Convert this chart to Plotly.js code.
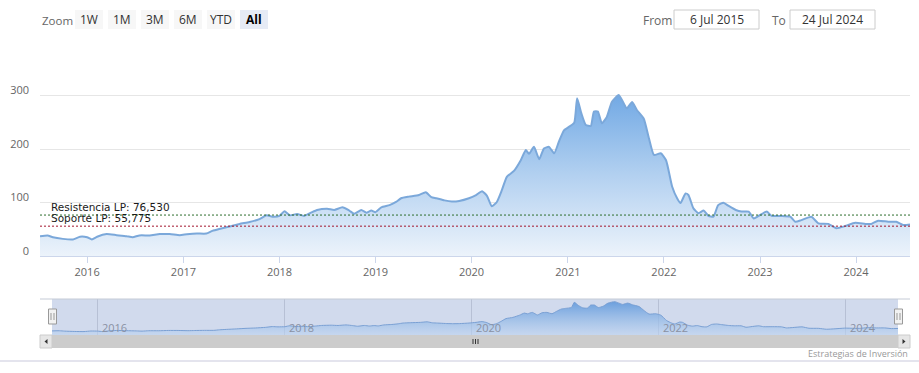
<!DOCTYPE html>
<html>
<head>
<meta charset="utf-8">
<script src="https://cdn.plot.ly/plotly-3.0.1.min.js"></script>
<style>html,body{margin:0;padding:0;background:#fff;}#chart{width:919px;height:373px;}</style>
</head>
<body>
<div id="chart"></div>
<script>
// ---- data ----
const dates = [
'2015-07-06','2015-08-04','2015-08-24','2015-10-01','2015-11-08','2015-12-05',
'2016-01-01','2016-01-19','2016-02-08','2016-03-15','2016-04-22','2016-05-30','2016-06-22','2016-07-18','2016-08-26','2016-10-03','2016-11-10','2016-12-18',
'2017-01-14','2017-02-21','2017-03-29','2017-04-21','2017-05-17','2017-06-25','2017-08-02','2017-09-09','2017-10-17','2017-11-13','2017-12-05',
'2018-01-01','2018-01-20','2018-02-09','2018-03-09','2018-04-05','2018-05-01','2018-05-24','2018-07-01','2018-07-28','2018-08-28','2018-09-23','2018-10-12','2018-11-08','2018-11-27','2018-12-16',
'2019-01-01','2019-01-23','2019-02-23','2019-03-20','2019-04-08','2019-05-08','2019-06-15','2019-07-11','2019-08-01','2019-08-20','2019-09-20','2019-10-18','2019-11-15','2019-12-22',
'2020-01-18','2020-02-10','2020-02-29','2020-03-18','2020-04-06','2020-04-25','2020-05-14','2020-06-10','2020-07-06','2020-07-25','2020-08-06','2020-08-25','2020-09-14','2020-10-02','2020-10-21','2020-11-10','2020-11-28','2020-12-17',
'2021-01-01','2021-01-25','2021-02-05','2021-02-21','2021-03-10','2021-03-29','2021-04-10','2021-04-25','2021-05-10','2021-05-29','2021-06-17','2021-07-13','2021-07-25','2021-08-13','2021-09-02','2021-09-20','2021-10-16','2021-11-05','2021-11-24','2021-12-20',
'2022-01-09','2022-02-01','2022-02-20','2022-03-05','2022-03-24','2022-04-04','2022-04-23','2022-05-12','2022-06-01','2022-06-19','2022-07-08','2022-07-26','2022-08-15','2022-09-04','2022-10-01','2022-10-23','2022-11-19','2022-12-08','2022-12-27',
'2023-01-27','2023-02-14','2023-03-23','2023-04-26','2023-05-15','2023-06-07','2023-07-15','2023-08-11','2023-09-18','2023-10-18','2023-11-21','2023-12-29',
'2024-02-06','2024-02-28','2024-03-25','2024-05-02','2024-06-02','2024-06-28','2024-07-24'
];
const prices = [
37,38.5,35,32,31,36,
35,31,36,41,39,37,35,38.5,38.5,41,41,39,
40.5,42,42,47,50.5,55,60,63.5,69,76,73.5,
75,83.5,76,78.5,75,81,86,88.5,86,91,85,79,86,81,85,
82,91,95,101,108,111,114,119,110,108,104,102,103,108,
114,121,112,93,101,123,148,159,179,198,191,204,181,201,204,192,214,235,
240,249,295,267,245,243,270,270,248,260,288,301,292,276,288,273,257,220,189,192,
179,130,108,99,117,114,89,80,85,75,73.5,95,99.5,93.5,86,83,83,70,75,
83,75,75,73.5,64,67,73.5,61,60,52,56,62,
60,60,66,64,64,58,59
];
const resistencia = 76.530;
const soporte = 55.775;
const yTickVals = [0,100,200,300,400];
const yTickText = ['0','100','200','300',''];
const navTickDates = ['2016-01-01','2018-01-01','2020-01-01','2022-01-01','2024-01-01'];
const navTickText = ['2016','2018','2020','2022','2024'];
const rangeButtons = ['1W','1M','3M','6M','YTD','All'];
const activeButton = 'All';
const fromText = '6 Jul 2015';
const toText = '24 Jul 2024';
const creditText = 'Estrategias de Inversión';
const startDate = '2015-07-06', endDate = '2024-07-24';

// ---- helpers (pixel -> paper) ----
const W = 919, H = 373;
const px = x => x / W;
const py = y => 1 - y / H;
const fmt = v => v.toFixed(3).replace('.', ',');

const FONT = 'Open Sans, DejaVu Sans, sans-serif';

const mainTrace = {
  x: dates, y: prices, xaxis: 'x', yaxis: 'y', type: 'scatter', mode: 'lines',
  line: {color: '#7ba8da', width: 2, shape: 'spline', smoothing: 0.5},
  fill: 'tozeroy',
  fillgradient: {type: 'vertical', start: 0, stop: 305,
    colorscale: [[0, 'rgb(236,243,251)'], [0.5, 'rgb(178,208,240)'], [1, 'rgb(112,168,228)']]},
  hoverinfo: 'skip'
};
const navTrace = {
  x: dates, y: prices, xaxis: 'x2', yaxis: 'y2', type: 'scatter', mode: 'lines',
  line: {color: '#7aa0d4', width: 1, shape: 'spline', smoothing: 0.5},
  fill: 'tozeroy',
  fillgradient: {type: 'vertical', start: 0, stop: 305,
    colorscale: [[0, 'rgba(190,212,240,0.6)'], [1, 'rgba(100,155,220,0.95)']]},
  hoverinfo: 'skip'
};

const shapes = [];
const annotations = [];

// range selector
annotations.push({xref:'paper', yref:'paper', x:px(40), y:py(20), xanchor:'left', yanchor:'middle',
  text:'Zoom', showarrow:false, font:{family:FONT, size:11.5, color:'#666'}});
rangeButtons.forEach((b, i) => {
  const x0 = 75 + 33 * i;
  const active = b === activeButton;
  shapes.push({type:'rect', xref:'paper', yref:'paper', x0:px(x0), x1:px(x0+28), y0:py(29), y1:py(10),
    fillcolor: active ? '#e6ebf5' : '#f7f7f7', line:{width:0}});
  annotations.push({xref:'paper', yref:'paper', x:px(x0+14), y:py(19.5), xanchor:'center', yanchor:'middle',
    text: active ? '<b>'+b+'</b>' : b, showarrow:false, font:{family:FONT, size:12, color: active ? '#000' : '#333'}});
});
// from / to
annotations.push({xref:'paper', yref:'paper', x:px(641), y:py(20), xanchor:'left', yanchor:'middle',
  text:'From', showarrow:false, font:{family:FONT, size:12, color:'#666'}});
shapes.push({type:'rect', xref:'paper', yref:'paper', x0:px(674), x1:px(759), y0:py(29), y1:py(10),
  fillcolor:'#fff', line:{color:'#cccccc', width:1}});
annotations.push({xref:'paper', yref:'paper', x:px(716.5), y:py(19.5), xanchor:'center', yanchor:'middle',
  text:fromText, showarrow:false, font:{family:FONT, size:12, color:'#333'}});
annotations.push({xref:'paper', yref:'paper', x:px(770), y:py(20), xanchor:'left', yanchor:'middle',
  text:'To', showarrow:false, font:{family:FONT, size:12, color:'#666'}});
shapes.push({type:'rect', xref:'paper', yref:'paper', x0:px(790), x1:px(875), y0:py(29), y1:py(10),
  fillcolor:'#fff', line:{color:'#cccccc', width:1}});
annotations.push({xref:'paper', yref:'paper', x:px(832.5), y:py(19.5), xanchor:'center', yanchor:'middle',
  text:toText, showarrow:false, font:{family:FONT, size:12, color:'#333'}});

// plot lines (resistance / support)
shapes.push({type:'line', xref:'x domain', yref:'y', x0:0, x1:1, y0:resistencia, y1:resistencia,
  line:{color:'#2d6e2d', width:1, dash:'2px,2px'}});
shapes.push({type:'line', xref:'x domain', yref:'y', x0:0, x1:1, y0:soporte, y1:soporte,
  line:{color:'#a3142c', width:1, dash:'2px,2px'}});
annotations.push({xref:'paper', yref:'y', x:px(49), y:resistencia, xanchor:'left', yanchor:'bottom', yshift:0,
  text:'Resistencia LP: ' + fmt(resistencia), showarrow:false, font:{family:'DejaVu Sans', size:10.5, color:'#1a1a1a'}});
annotations.push({xref:'paper', yref:'y', x:px(49), y:soporte, xanchor:'left', yanchor:'bottom', yshift:0,
  text:'Soporte LP: ' + fmt(soporte), showarrow:false, font:{family:'DejaVu Sans', size:10.5, color:'#1a1a1a'}});

// navigator
shapes.push({type:'rect', xref:'paper', yref:'paper', x0:px(52), x1:px(898), y0:py(335), y1:py(299),
  fillcolor:'rgba(102,133,194,0.3)', line:{width:0}, layer:'below'});
shapes.push({type:'line', xref:'paper', yref:'paper', x0:px(40), x1:px(910), y0:py(299), y1:py(299),
  line:{color:'#c5cbd6', width:1}});
navTickDates.forEach((d, i) => annotations.push({xref:'x2', yref:'paper', x:d, y:py(327), xanchor:'left', yanchor:'middle',
  xshift:2, text:navTickText[i], showarrow:false, font:{family:FONT, size:11, color:'#8a91a3'}}));
// scrollbar
shapes.push({type:'rect', xref:'paper', yref:'paper', x0:px(40), x1:px(910), y0:py(348), y1:py(335),
  fillcolor:'#cccccc', line:{width:0}});
shapes.push({type:'rect', xref:'paper', yref:'paper', x0:px(40), x1:px(52), y0:py(348), y1:py(335),
  fillcolor:'#e6e6e6', line:{color:'#cccccc', width:1}});
shapes.push({type:'rect', xref:'paper', yref:'paper', x0:px(898), x1:px(910), y0:py(348), y1:py(335),
  fillcolor:'#e6e6e6', line:{color:'#cccccc', width:1}});
shapes.push({type:'path', xref:'paper', yref:'paper',
  path:`M ${px(44.5)} ${py(341.5)} L ${px(47.5)} ${py(339)} L ${px(47.5)} ${py(344)} Z`, fillcolor:'#333', line:{width:0}});
shapes.push({type:'path', xref:'paper', yref:'paper',
  path:`M ${px(905.5)} ${py(341.5)} L ${px(902.5)} ${py(339)} L ${px(902.5)} ${py(344)} Z`, fillcolor:'#333', line:{width:0}});
[473, 475.5, 478].forEach(x => shapes.push({type:'line', xref:'paper', yref:'paper', x0:px(x), x1:px(x), y0:py(339), y1:py(344),
  line:{color:'#333', width:1}}));
// handles
[52.5, 898.5].forEach(cx => {
  shapes.push({type:'rect', xref:'paper', yref:'paper', x0:px(cx-4), x1:px(cx+4), y0:py(324), y1:py(309),
    fillcolor:'#f2f2f2', line:{color:'#999', width:1}});
  [cx-1.5, cx+1.5].forEach(x => shapes.push({type:'line', xref:'paper', yref:'paper', x0:px(x), x1:px(x), y0:py(320), y1:py(313),
    line:{color:'#999', width:1}}));
});
// page bottom rule
shapes.push({type:'line', xref:'paper', yref:'paper', x0:0, x1:1, y0:py(361), y1:py(361),
  line:{color:'#c9c9dc', width:1}});
annotations.push({xref:'paper', yref:'paper', x:px(910), y:py(353), xanchor:'right', yanchor:'middle',
  text:creditText, showarrow:false, font:{family:FONT, size:9, color:'#999'}});

const layout = {
  width: W, height: H,
  margin: {l:0, r:0, t:0, b:0},
  paper_bgcolor: '#fff', plot_bgcolor: 'rgba(0,0,0,0)',
  showlegend: false, hovermode: false,
  xaxis: {
    domain: [px(40), px(910)], anchor: 'y', type: 'date', range: [startDate, endDate],
    showgrid: false, zeroline: false, showline: true, linecolor: '#ccd6eb', linewidth: 1,
    ticks: 'outside', ticklen: 6, tickcolor: '#ccd6eb', tick0: '2016-01-01', dtick: 'M12', tickformat: '%Y',
    tickfont: {family: FONT, size: 11, color: '#666'}, fixedrange: true
  },
  yaxis: {
    domain: [py(256), py(42)], anchor: 'x', range: [0, 400],
    tickvals: yTickVals, ticktext: yTickText, showgrid: true, gridcolor: '#e6e6e6', gridwidth: 1,
    zeroline: false, showline: false, ticks: '', ticklabelstandoff: 10, ticklabelshift: -5,
    tickfont: {family: FONT, size: 11, color: '#666'}, fixedrange: true
  },
  xaxis2: {
    domain: [px(52), px(898)], anchor: 'y2', type: 'date', range: [startDate, endDate],
    tickvals: navTickDates, showticklabels: false,
    showgrid: true, gridcolor: 'rgba(150,160,185,0.45)', gridwidth: 1, zeroline: false, showline: false,
    ticks: '', fixedrange: true
  },
  yaxis2: {
    domain: [py(335), py(299)], anchor: 'x2', range: [0, 325],
    showgrid: false, zeroline: false, showticklabels: false, ticks: '', fixedrange: true
  },
  shapes: shapes,
  annotations: annotations
};

Plotly.newPlot('chart', [mainTrace, navTrace], layout, {staticPlot: true, displayModeBar: false});
</script>
</body>
</html>
